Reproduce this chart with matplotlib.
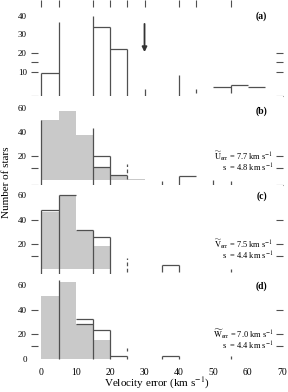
import numpy as np
import matplotlib.pyplot as plt

plt.rcParams['font.family'] = ['Liberation Serif', 'DejaVu Serif']
plt.rcParams['mathtext.fontset'] = 'stix'

# filled (grey) histograms for panels b-d, 5 km/s bins from 0
bin_left = [0, 5, 10, 15, 20, 25]
fill_b = [50, 57, 37, 11, 3.5, 1]
fill_c = [46, 59.7, 31, 18.4]
fill_d = [51, 62.4, 28, 15.2]

# open histogram pieces: tops (x0, x1, height) and sides (x, low, high)
a_top_x0 = [0, 15, 20, 50, 55, 60]
a_top_x1 = [5, 20, 25, 55, 60, 65]
a_top_y = [9.2, 34, 22.2, 1.6, 3.0, 1.6]
a_side_x = [0, 5, 15, 20, 25, 30, 40, 45, 55]
a_side_lo = [-3.2, -3.2, -3.2, -3.2, -3.2, -3.2, -3.2, -1.6, -1.6]
a_side_hi = [9.2, 36.8, 40, 34, 22.2, 0.5, 8.1, 0.5, 3.0]

b_top_x0 = [15, 15, 20, 40]
b_top_x1 = [20, 20, 25, 45]
b_top_y = [20, 11, 3.9, 3]
b_side_x = [0, 15, 20, 35, 40, 50, 55]
b_side_lo = [-4.4, -4.4, -4.4, -4.4, -4.4, -4.4, -4.4]
b_side_hi = [50, 42.8, 20, -0.8, 3, -0.3, -0.8]

c_top_x0 = [0, 5, 10, 15, 35]
c_top_x1 = [5, 10, 15, 20, 40]
c_top_y = [48, 60.5, 31.5, 25.6, 2.9]
c_side_x = [0, 5, 15, 20, 35, 40, 55]
c_side_lo = [-4.5, -4.5, -4.5, -4.5, -2.5, -2.5, -3]
c_side_hi = [48, 60.5, 31.5, 25.6, 2.9, 2.9, -0.5]

d_top_x0 = [10, 10, 15, 20, 35]
d_top_x1 = [15, 15, 20, 25, 40]
d_top_y = [32.4, 28.3, 23.4, 2.3, 2]
d_side_x = [5, 15, 20, 25, 25, 35, 40, 55]
d_side_lo = [0, 0, 0, 0, 6.5, 0, 0, 0]
d_side_hi = [64, 32.4, 23.4, 2.3, 8.5, 2, 2, 2]

# dashed marks at 25 km/s
dash_lo = [1, -2.5]
dash_hi = [13, 9]

stats = [('U', '7.7', '4.8'), ('V', '7.5', '4.4'), ('W', '7.0', '4.4')]
panel_tags = ['(a)', '(b)', '(c)', '(d)']

ylims = [(-3.2, 48.6), (-4.4, 69.75), (-4.5, 68.4), (-4.5, 69.3)]
ylabels = [[10, 20, 30, 40], [20, 40, 60], [20, 40, 60], [0, 20, 40, 60]]
ydashes = [[-3.2, 10, 15, 20], [-4.4, 10, 20], [10, 20, 40], [10, 20, 40]]
tag_y = [40, 57.5, 59.4, 59.4]

line_c = '#505050'
grey = '#c9c9c9'

fig = plt.figure(figsize=(2.88, 3.92), dpi=100)
gs = fig.add_gridspec(4, 1, height_ratios=[96, 89, 89, 90], left=0.1076,
                      right=0.9826, top=1.0, bottom=0.0714, hspace=0)
axes = [fig.add_subplot(gs[i]) for i in range(4)]

tops = [(a_top_x0, a_top_x1, a_top_y), (b_top_x0, b_top_x1, b_top_y),
        (c_top_x0, c_top_x1, c_top_y), (d_top_x0, d_top_x1, d_top_y)]
sides = [(a_side_x, a_side_lo, a_side_hi), (b_side_x, b_side_lo, b_side_hi),
         (c_side_x, c_side_lo, c_side_hi), (d_side_x, d_side_lo, d_side_hi)]
fills = [None, fill_b, fill_c, fill_d]

for i, ax in enumerate(axes):
    if fills[i] is not None:
        n = len(fills[i])
        ax.bar(bin_left[:n], fills[i], width=5, align='edge', color=grey,
               edgecolor='none', zorder=1)
    x0, x1, y = tops[i]
    ax.hlines(y, x0, x1, color=line_c, lw=0.9, zorder=2)
    sx, lo, hi = sides[i]
    ax.vlines(sx, lo, hi, color=line_c, lw=0.9, zorder=2)

    ax.set_xlim(-3.0, 70.25)
    ax.set_ylim(*ylims[i])
    for s in ax.spines.values():
        s.set_visible(False)

    ax.yaxis.remove_overlapping_locs = False
    ax.set_yticks(ylabels[i])
    ax.set_yticks(ydashes[i], minor=True)
    ax.tick_params(axis='y', which='major', length=0, pad=3, labelsize=6.5)
    ax.tick_params(axis='y', which='minor', left=True, right=True,
                   direction='in', length=5, width=0.8, color=line_c)

    ax.text(64, tag_y[i], panel_tags[i], ha='center', va='center',
            fontsize=7, fontweight='bold')

    if i < 3:
        ax.set_xticks([])
    if i > 0:
        sym, med, sd = stats[i - 1]
        ax.text(67.5, 20, r'$\widetilde{\mathrm{%s}}_{\mathrm{err}}$ = %s km s$^{-1}$' % (sym, med),
                ha='right', va='center', fontsize=6)
        ax.text(67.5, 10, r's  = %s km s$^{-1}$' % sd,
                ha='right', va='center', fontsize=6)

# dashed marks at 25 km/s in panels b and c
axes[1].vlines(25, dash_lo[0], dash_hi[0], color=line_c, lw=0.9, linestyles=(0, (3, 2)))
axes[2].vlines(25, dash_lo[1], dash_hi[1], color=line_c, lw=0.9, linestyles=(0, (3, 2)))

# top ticks of panel a
axes[0].set_xticks([0, 5, 15, 20, 25, 30, 40, 45, 55], minor=True)
axes[0].tick_params(axis='x', which='minor', top=True, bottom=False,
                    direction='in', length=5, width=0.8, color=line_c)

# arrow in panel a
axes[0].annotate('', xy=(30, 20.5), xytext=(30, 35.7),
                 arrowprops=dict(arrowstyle='-|>', color='#333333', lw=1.3,
                                 mutation_scale=7, shrinkA=0, shrinkB=0))

axes[3].set_xticks(np.arange(0, 71, 10))
axes[3].tick_params(axis='x', which='major', length=0, pad=3, labelsize=7)
axes[3].set_xlabel('Velocity error (km s$^{-1}$)', fontsize=8, labelpad=-1)

fig.text(0.022, 0.535, 'Number of stars', rotation=90, ha='center',
         va='center', fontsize=8)

fig.savefig('out.png', dpi=100)
